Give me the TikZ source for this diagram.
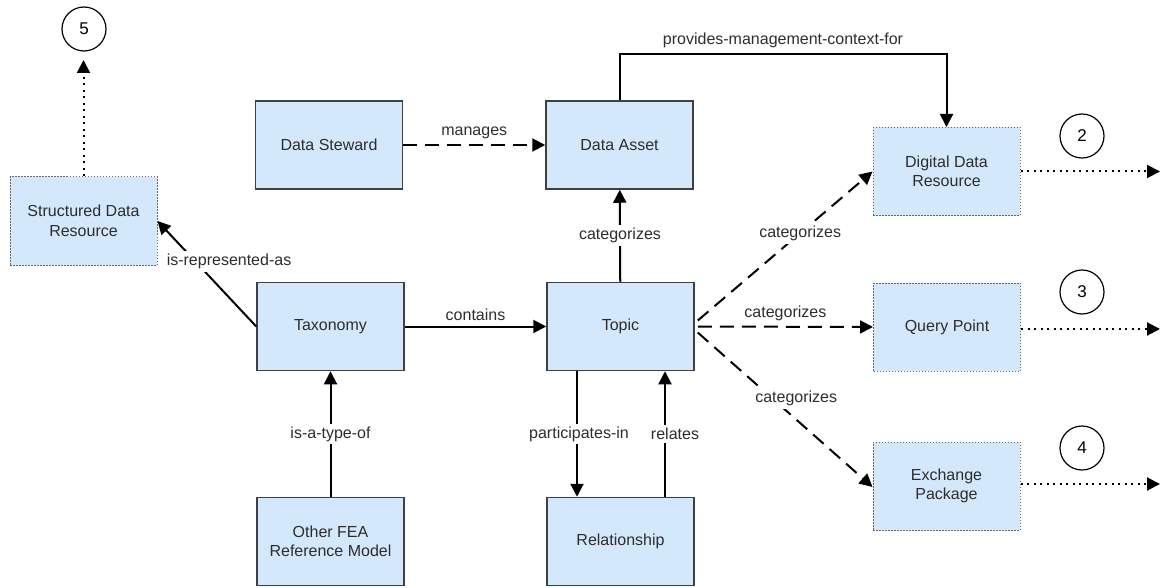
\documentclass[tikz,border=0pt]{standalone}
\usepackage{fontspec}
\setmainfont{Liberation Sans}
\usetikzlibrary{arrows.meta}
\definecolor{boxfill}{RGB}{212,232,252}
\definecolor{boxline}{RGB}{64,64,64}
\definecolor{txt}{RGB}{45,45,45}
\begin{document}
\begin{tikzpicture}[x=1pt,y=-1pt,
  every node/.style={font=\fontsize{16}{19.5}\selectfont, text=txt},
  entity/.style={draw=boxline, line width=1.5pt, fill=boxfill, minimum width=147pt,
    minimum height=88pt, align=center, inner sep=2pt},
  extentity/.style={entity, draw=boxline!80, line width=1pt, dash pattern=on 1.5pt off 1.5pt},
  marker/.style={draw=black, line width=1.2pt, circle, minimum size=44pt, inner sep=0pt,
    font=\fontsize{17}{20}\selectfont, text=black},
  conn/.style={draw=black, line width=2pt, -{Triangle[length=13pt,width=13pt]}},
  dashconn/.style={conn, dash pattern=on 14pt off 8pt},
  dotconn/.style={conn, dash pattern=on 2pt off 4.5pt},
  lbl/.style={inner sep=2pt},
  lblbg/.style={lbl, fill=white, inner sep=3pt}]
\useasboundingbox (0,0) rectangle (1161,588);

% entities
\node[entity] (steward) at (329,145) {Data Steward};
\node[entity] (asset) at (619.5,145) {Data Asset};
\node[entity] (taxo) at (330.5,326.5) {Taxonomy};
\node[entity] (topic) at (620.5,326.5) {Topic};
\node[entity] (fea) at (330.5,541.5) {Other FEA\\Reference Model};
\node[entity] (rel) at (620.5,541.5) {Relationship};

% external resources
\node[extentity] (sdr) at (83.5,221) {Structured Data\\Resource};
\node[extentity] (ddr) at (946.5,171.5) {Digital Data\\Resource};
\node[extentity] (qp) at (947,327) {Query Point};
\node[extentity] (ep) at (946.5,486) {Exchange\\Package};

% reference markers
\node[marker] (m5) at (84,29) {5};
\node[marker] (m2) at (1082,136) {2};
\node[marker] (m3) at (1082,292) {3};
\node[marker] (m4) at (1082,448) {4};

% off-page continuation points
\coordinate (out2) at (1160,171.5);
\coordinate (out3) at (1160,329);
\coordinate (out4) at (1160,484);
\coordinate (up5) at (83.5,60);

% relationships
\draw[dashconn] (steward) -- node[lbl, above=3pt] {manages} (asset);
\draw[conn] (asset.north) -- ++(0,-46) -| node[lbl, pos=0.25, above=3pt] {provides-management-context-for} (ddr.north);
\draw[conn] (topic) -- node[lblbg] {categorizes} (asset);
\draw[conn] (taxo) -- node[lbl, above=3pt] {contains} (topic);
\draw[conn] (fea) -- node[lblbg] {is-a-type-of} (taxo);
\draw[conn] ([xshift=-43.5pt]topic.south) -- node[lblbg, xshift=2pt] {participates-in} ([xshift=-43.5pt]rel.north);
\draw[conn] ([xshift=44.5pt]rel.north) -- node[lblbg, xshift=10pt] {relates} ([xshift=44.5pt]topic.south);
\draw[conn] (taxo.west) -- node[lblbg, pos=0.62, xshift=34pt] {is-represented-as} (sdr.east);
\draw[dashconn] ([xshift=3pt,yshift=6pt]topic.east) -- node[lblbg, pos=0.586] {categorizes} (ddr.west);
\draw[dashconn] ([xshift=3pt]topic.east) -- node[lbl, above=3pt, pos=0.5] {categorizes} (qp.west);
\draw[dashconn] ([xshift=3pt,yshift=-6pt]topic.east) -- node[lblbg, pos=0.426, xshift=24pt] {categorizes} ([yshift=-1pt]ep.west);

% continuations
\draw[dotconn] (ddr.east) -- (out2);
\draw[dotconn] (qp.east |- out3) -- (out3);
\draw[dotconn] (ep.east |- out4) -- (out4);
\draw[dotconn] (sdr.north) -- (up5);
\end{tikzpicture}
\end{document}
